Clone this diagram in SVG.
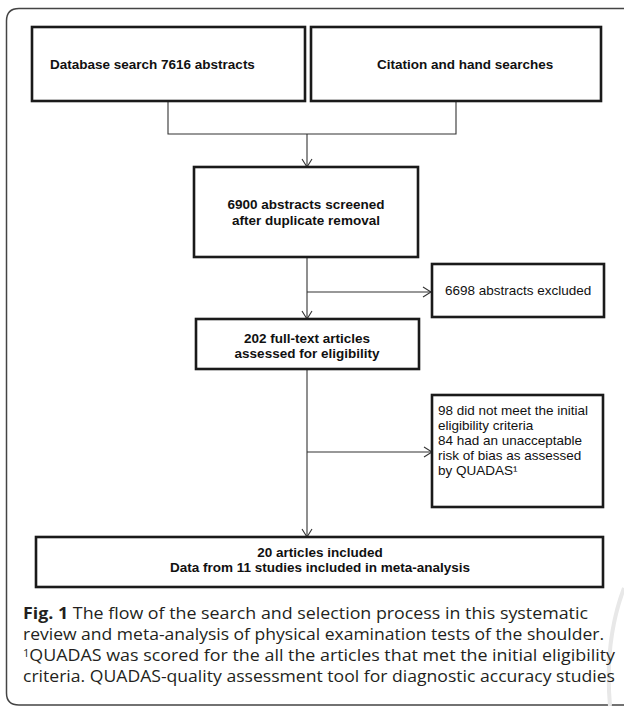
<svg xmlns="http://www.w3.org/2000/svg" width="624" height="711" viewBox="0 0 624 711">
<defs>
<style>
.box{fill:#fff;stroke:#1a1a1a;stroke-width:2.6}
.b{font-family:"Liberation Sans",Arial,sans-serif;font-weight:bold;font-size:13.5px;fill:#111}
.r{font-family:"Liberation Sans",Arial,sans-serif;font-size:13.5px;fill:#111}
.c{font-family:"Open Sans","Noto Sans",sans-serif;font-size:16px;fill:#231f20}
.ln{fill:none;stroke:#333;stroke-width:1.1}
.mid{text-anchor:middle}
</style>
<marker id="arr" viewBox="0 0 10 12" refX="9" refY="6" markerWidth="10" markerHeight="12" markerUnits="userSpaceOnUse" orient="auto">
<path d="M1,1 L9,6 L1,11" fill="none" stroke="#333" stroke-width="1.1"/>
</marker>
</defs>
<rect width="624" height="711" fill="#fff"/>
<path d="M 640 8.5 L 19 8.5 Q 6.5 8.5 6.5 21 L 6.5 693 Q 6.5 705 19 705 L 640 705" fill="none" stroke="#444" stroke-width="1.5"/>
<path d="M 624 588 C 612 620, 606 660, 610 706" fill="none" stroke="#e8e8e8" stroke-width="4"/>
<g id="connectors">
<path class="ln" d="M168 101 V134 H456 V101"/>
<path class="ln" d="M307 134 V167" marker-end="url(#arr)"/>
<path class="ln" d="M307 257 V319" marker-end="url(#arr)"/>
<path class="ln" d="M307 292 H431" marker-end="url(#arr)"/>
<path class="ln" d="M307 369 V537" marker-end="url(#arr)"/>
<path class="ln" d="M307 452 H432" marker-end="url(#arr)"/>
</g>
<g id="n1">
<rect class="box" x="32" y="27" width="273" height="74"/>
<text class="b" x="50" y="69">Database search 7616 abstracts</text>
</g>
<g id="n2">
<rect class="box" x="311" y="27" width="290" height="74"/>
<text class="b" x="377" y="69">Citation and hand searches</text>
</g>
<g id="n3">
<rect class="box" x="194" y="167" width="224" height="90"/>
<text class="b mid" x="306" y="209">6900 abstracts screened</text>
<text class="b mid" x="306" y="225">after duplicate removal</text>
</g>
<g id="n4">
<rect class="box" x="432" y="264" width="172" height="53"/>
<text class="r" x="445" y="295">6698 abstracts excluded</text>
</g>
<g id="n5">
<rect class="box" x="196" y="319" width="223" height="50"/>
<text class="b mid" x="307" y="343">202 full-text articles</text>
<text class="b mid" x="307" y="358">assessed for eligibility</text>
</g>
<g id="n6">
<rect class="box" x="432" y="395" width="171" height="112"/>
<text class="r" x="438" y="415">98 did not meet the initial</text>
<text class="r" x="438" y="430">eligibility criteria</text>
<text class="r" x="438" y="445">84 had an unacceptable</text>
<text class="r" x="438" y="460">risk of bias as assessed</text>
<text class="r" x="438" y="475">by QUADAS¹</text>
</g>
<g id="n7">
<rect class="box" x="36" y="537" width="567" height="50"/>
<text class="b mid" x="320" y="557">20 articles included</text>
<text class="b mid" x="320" y="572">Data from 11 studies included in meta-analysis</text>
</g>
<g id="caption">
<text class="c" x="23" y="619" textLength="565" lengthAdjust="spacingAndGlyphs"><tspan font-weight="bold">Fig. 1</tspan> The flow of the search and selection process in this systematic</text>
<text class="c" x="23" y="640" textLength="581" lengthAdjust="spacingAndGlyphs">review and meta-analysis of physical examination tests of the shoulder.</text>
<text class="c" x="23" y="661" textLength="592" lengthAdjust="spacingAndGlyphs"><tspan font-size="10" dy="-4.5">1</tspan><tspan dy="4.5">QUADAS was scored for the all the articles that met the initial eligibility</tspan></text>
<text class="c" x="23" y="682" textLength="592" lengthAdjust="spacingAndGlyphs">criteria. QUADAS-quality assessment tool for diagnostic accuracy studies</text>
</g>
</svg>
